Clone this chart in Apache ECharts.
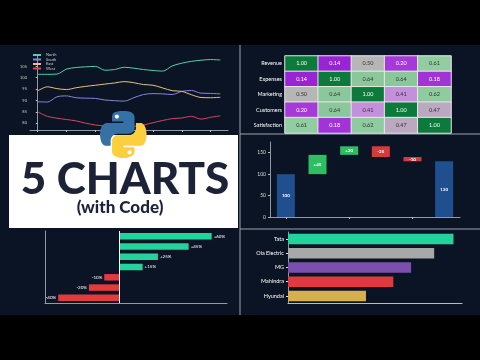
<!DOCTYPE html>
<html>
<head>
<meta charset="utf-8">
<script src="https://cdn.jsdelivr.net/npm/echarts@6/dist/echarts.min.js"></script>
<style>
  html, body { margin: 0; padding: 0; background: #000; }
  #main { width: 480px; height: 360px; }
</style>
</head>
<body>
<div id="main"></div>
<script>
// ---- line chart (top left)
var regions = ['North', 'South', 'East', 'West'];
var regionColors = ['#4fd1a5', '#8b82db', '#e6c47c', '#d9455a'];
var northData = [101.5, 101.5, 101.6, 103.8, 104.5, 104.8, 105.0, 103.3, 103.6, 104.6, 104.2, 103.6, 103.2, 102.9, 105.2, 106.4, 107.2, 107.7, 108.0, 107.8];
var southData = [89.4, 89.3, 91.6, 92.0, 91.2, 91.0, 90.9, 90.2, 89.9, 89.7, 91.2, 92.6, 93.0, 92.9, 92.6, 94.0, 94.4, 93.2, 93.1, 92.9];
var eastData = [94.2, 96.0, 95.2, 94.8, 95.6, 96.2, 96.7, 97.2, 97.7, 98.3, 97.8, 97.0, 96.7, 95.5, 94.3, 94.0, 92.5, 91.3, 91.2, 91.4];
var westData = [85.0, 83.0, 82.2, 81.6, 81.0, 80.0, 79.2, 78.8, 78.5, 78.5, 78.6, 79.2, 80.2, 81.2, 82.0, 82.3, 83.0, 81.8, 82.6, 83.2];
var lineYTicks = [80, 85, 90, 95, 100, 105];
var lineXTicks = [0, 3, 6, 9, 12, 15, 18];

// ---- heatmap (top right)
var corrLabels = ['Revenue', 'Expenses', 'Marketing', 'Customers', 'Satisfaction'];
var corrMatrix = [
  [1.00, 0.14, 0.50, 0.20, 0.61],
  [0.14, 1.00, 0.64, 0.64, 0.18],
  [0.50, 0.64, 1.00, 0.41, 0.62],
  [0.20, 0.64, 0.41, 1.00, 0.47],
  [0.61, 0.18, 0.62, 0.47, 1.00]
];

// ---- waterfall (middle right)
var wfSteps = ['Start', 'Step 1', 'Step 2', 'Step 3', 'Step 4', 'End'];
var wfValues = [100, 45, 20, -25, -10, 130];
var wfIsTotal = [true, false, false, false, false, true];
var wfYTicks = [0, 50, 100, 150];

// ---- diverging bars (bottom left)
var divItems = ['A', 'B', 'C', 'D', 'E', 'F', 'G'];
var divValues = [60, 45, 25, 15, -10, -20, -40];

// ---- brands (bottom right)
var brands = ['Tata', 'Ola Electric', 'MG', 'Mahindra', 'Hyundai'];
var brandValues = [66, 58.3, 49.1, 42, 31.1];
var brandColors = ['#26d29c', '#a8a8a8', '#7b4fae', '#e0393e', '#d6b04c'];

var FONT = 'Lato';
var chart = echarts.init(document.getElementById('main'));

function lineSeries(name, data, color) {
  return {
    name: name, type: 'line', xAxisIndex: 0, yAxisIndex: 0,
    data: data.map(function (v, i) { return [i, v]; }),
    showSymbol: false, smooth: 0.3,
    lineStyle: { color: color, width: 1 }, itemStyle: { color: color }
  };
}

var heatData = [];
corrMatrix.forEach(function (row, r) {
  row.forEach(function (v, c) {
    var light = v > 0.3 && v < 0.9;
    heatData.push({ value: [c, r, v], label: { color: light ? '#333' : '#fff' } });
  });
});

var wfBase = [], wfBars = [], run = 0;
wfValues.forEach(function (v, i) {
  var color, base, h;
  if (wfIsTotal[i]) { base = 0; h = v; run = v; color = '#1f4f8f'; }
  else if (v >= 0) { base = run; h = v; run += v; color = '#2dbe63'; }
  else { base = run + v; h = -v; run += v; color = '#d63b3b'; }
  wfBase.push(base);
  wfBars.push({ value: h, itemStyle: { color: color },
    label: { formatter: wfIsTotal[i] ? String(v) : (v > 0 ? '+' + v : String(v)) } });
});

var divData = divValues.map(function (v) {
  return { value: v, itemStyle: { color: v >= 0 ? '#22d39b' : '#e03c3c' },
    label: { position: v >= 0 ? 'right' : 'left' } };
});

var logoSvg = "<svg xmlns='http://www.w3.org/2000/svg' viewBox='0 0 112 112'>" +
  "<path fill='#3671a6' d='M54.919 0.001c-4.584.022-8.961.413-12.813 1.095C30.76 3.099 28.7 7.295 28.7 15.032v10.219h26.813v3.406H18.638c-7.793 0-14.616 4.684-16.75 13.594-2.462 10.213-2.571 16.586 0 27.25 1.905 7.938 6.457 13.594 14.25 13.594h9.219v-12.25c0-8.850 7.657-16.656 16.75-16.656h26.781c7.454 0 13.406-6.138 13.406-13.625v-25.531c0-7.266-6.13-12.725-13.406-13.937-4.606-.766-9.385-1.115-13.969-1.094z'/>" +
  "<path fill='#fccf3e' d='M85.638 28.657v11.906c0 9.231-7.826 17-16.75 17H42.106c-7.336 0-13.406 6.278-13.406 13.625v25.531c0 7.266 6.319 11.54 13.406 13.625 8.487 2.496 16.626 2.947 26.781 0 6.75-1.954 13.406-5.888 13.406-13.625v-10.219H55.513v-3.406h40.188c7.793 0 10.696-5.436 13.406-13.594 2.799-8.399 2.68-16.476 0-27.25-1.926-7.757-5.604-13.594-13.406-13.594h-10.063z'/>" +
  "<circle cx='40.4' cy='13.3' r='5' fill='#fff'/><circle cx='70.6' cy='98.4' r='5' fill='#fff'/></svg>";

var axisGray = { lineStyle: { color: '#b8bcc4', width: 0.8 } };

var option = {
  backgroundColor: '#000',
  animation: false,
  textStyle: { fontFamily: FONT },
  graphic: [
    { type: 'rect', z: -10, shape: { x: 0, y: 45, width: 480, height: 270 }, style: { fill: '#0b1424' } },
    { type: 'rect', z: -9, shape: { x: 9, y: 135, width: 229, height: 93 }, style: { fill: '#ffffff' } },
    { type: 'line', z: -8, shape: { x1: 240, y1: 45, x2: 240, y2: 315 }, style: { stroke: '#9aa2ae', lineWidth: 1 } },
    { type: 'line', z: -8, shape: { x1: 240, y1: 134, x2: 480, y2: 134 }, style: { stroke: '#9aa2ae', lineWidth: 1 } },
    { type: 'line', z: -8, shape: { x1: 240, y1: 229, x2: 480, y2: 229 }, style: { stroke: '#9aa2ae', lineWidth: 1 } },
    { type: 'text', z: 50, x: 125, y: 180, style: { text: '5 CHARTS', fill: '#1c2237', font: '900 44px Lato', textAlign: 'center', textVerticalAlign: 'middle' } },
    { type: 'text', z: 50, x: 120, y: 208, style: { text: '(with Code)', fill: '#1c2237', font: '900 17px Lato', textAlign: 'center', textVerticalAlign: 'middle' } },
    { type: 'image', z: 60, style: { image: 'data:image/svg+xml;charset=utf-8,' + encodeURIComponent(logoSvg), x: 100, y: 111, width: 47, height: 47 } }
  ],
  legend: {
    data: regions, orient: 'vertical', left: 33, top: 53, itemWidth: 8, itemHeight: 2, itemGap: 0.5,
    icon: 'rect', textStyle: { color: '#ccc', fontSize: 4, fontFamily: FONT }, padding: 0
  },
  visualMap: {
    show: false, seriesIndex: 4, min: 0.1, max: 1,
    inRange: { color: ['#9015d2', '#a53ad8', '#b565dc', '#c68bdf', '#b6b6b6', '#93cea3', '#7cc08f', '#52a86d', '#2c9052', '#0b7a3a'] }
  },
  grid: [
    { left: 30, right: 252, top: 55, bottom: 230 },
    { left: 285, right: 29, top: 56, bottom: 227 },
    { left: 270, right: 20, top: 142, bottom: 143 },
    { left: 45, right: 253, top: 231, bottom: 57 },
    { left: 288, right: 18, top: 232, bottom: 57 }
  ],
  xAxis: [
    { gridIndex: 0, type: 'value', min: -0.8, max: 19.8, axisLine: axisGray,
      axisTick: { show: true, length: 2, lineStyle: { color: '#b8bcc4' }, customValues: lineXTicks },
      axisLabel: { show: false }, splitLine: { show: false } },
    { gridIndex: 1, type: 'category', data: corrLabels, show: false },
    { gridIndex: 2, type: 'category', data: wfSteps, axisLine: axisGray,
      axisTick: { show: true, alignWithLabel: true, length: 2, lineStyle: { color: '#b8bcc4' } },
      axisLabel: { show: false } },
    { gridIndex: 3, type: 'value', min: -48.6, max: 70, axisLine: { show: true, lineStyle: { color: '#b8bcc4', width: 0.8 } },
      axisTick: { show: false }, axisLabel: { show: false }, splitLine: { show: false } },
    { gridIndex: 4, type: 'value', min: 0, max: 69.4, axisLine: { show: true, lineStyle: { color: '#b8bcc4', width: 1.2 } },
      axisTick: { show: false }, axisLabel: { show: false }, splitLine: { show: false } }
  ],
  yAxis: [
    { gridIndex: 0, type: 'value', min: 77, max: 110, axisLine: { show: true, lineStyle: { color: '#b8bcc4', width: 0.8 } },
      axisTick: { show: true, length: 2, customValues: lineYTicks },
      axisLabel: { color: '#ccc', fontSize: 4, margin: 3, customValues: lineYTicks }, splitLine: { show: false } },
    { gridIndex: 1, type: 'category', data: corrLabels, inverse: true, axisLine: { show: false }, axisTick: { show: false },
      axisLabel: { color: '#fff', fontSize: 5.5, margin: 3 } },
    { gridIndex: 2, type: 'value', min: 0, max: 175, axisLine: { show: true, lineStyle: { color: '#b8bcc4', width: 0.8 } },
      axisTick: { show: true, length: 2, customValues: wfYTicks },
      axisLabel: { color: '#ddd', fontSize: 5, margin: 4, customValues: wfYTicks }, splitLine: { show: false } },
    { gridIndex: 3, type: 'category', data: divItems, inverse: true,
      axisLine: { show: true, onZero: false, lineStyle: { color: '#b8bcc4', width: 0.8 } },
      axisTick: { show: false }, axisLabel: { show: false } },
    { gridIndex: 4, type: 'category', data: brands, inverse: true,
      axisLine: { show: true, lineStyle: { color: '#b8bcc4', width: 0.8 } },
      axisTick: { show: true, length: 2, alignWithLabel: true, lineStyle: { color: '#ddd' } },
      axisLabel: { color: '#fff', fontSize: 5.5, margin: 4 } }
  ],
  series: [
    lineSeries(regions[0], northData, regionColors[0]),
    lineSeries(regions[1], southData, regionColors[1]),
    lineSeries(regions[2], eastData, regionColors[2]),
    lineSeries(regions[3], westData, regionColors[3]),
    {
      type: 'heatmap', xAxisIndex: 1, yAxisIndex: 1, data: heatData,
      itemStyle: { borderColor: '#e8e8e8', borderWidth: 1 },
      label: { show: true, fontSize: 5.5, formatter: function (p) { return p.value[2].toFixed(2); } }
    },
    {
      type: 'bar', xAxisIndex: 2, yAxisIndex: 2, stack: 'wf', data: wfBase, barWidth: 18,
      itemStyle: { color: 'transparent' }, silent: true
    },
    {
      type: 'bar', xAxisIndex: 2, yAxisIndex: 2, stack: 'wf', data: wfBars, barWidth: 18,
      label: { show: true, position: 'inside', color: '#fff', fontSize: 4.5, fontWeight: 'bold' }
    },
    {
      type: 'bar', xAxisIndex: 3, yAxisIndex: 3, data: divData, barWidth: 6.5,
      label: { show: true, color: '#fff', fontSize: 4.5, distance: 2,
        formatter: function (p) { return (p.value > 0 ? '+' : '') + p.value + '%'; } },
      markLine: { silent: true, symbol: 'none', label: { show: false },
        lineStyle: { color: '#fff', width: 1, type: 'solid' }, data: [{ xAxis: 0 }] }
    },
    {
      type: 'bar', xAxisIndex: 4, yAxisIndex: 4, barWidth: 10.5,
      data: brandValues.map(function (v, i) { return { value: v, itemStyle: { color: brandColors[i] } }; })
    }
  ]
};

chart.setOption(option);
</script>
</body>
</html>
